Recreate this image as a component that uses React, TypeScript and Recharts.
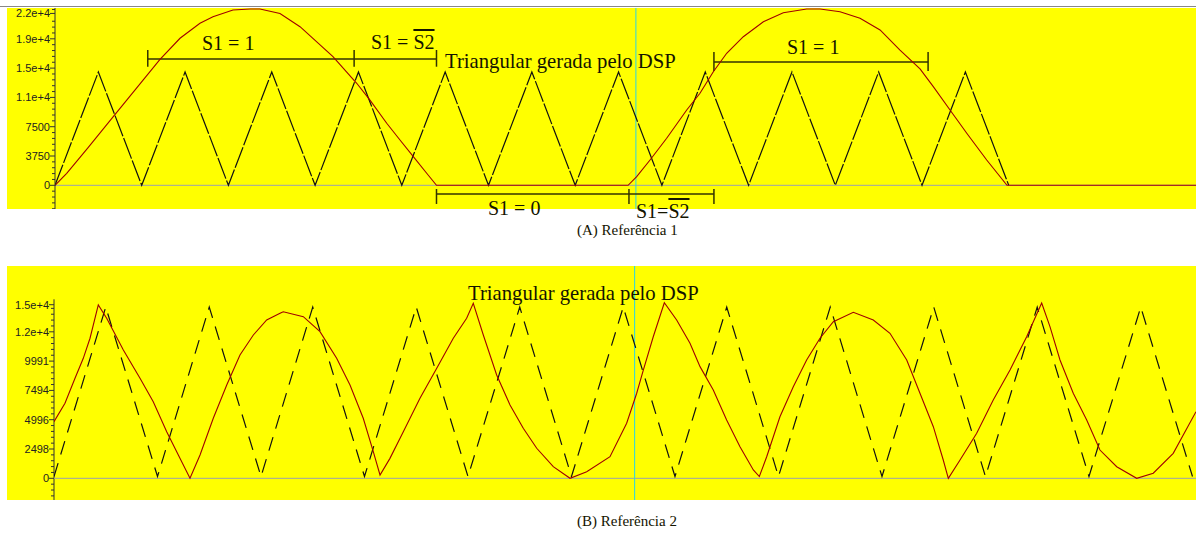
import React from "react";
import { LineChart, Line, XAxis, YAxis, ReferenceLine } from "recharts";

// ---------- Referência 1 ----------
// triangular carrier (DSP), vertices every half period
const triAX = [0, 50, 100, 150, 200, 250, 300, 350, 400, 450, 500, 550, 600, 650, 700, 750, 800, 850, 900, 950, 1000, 1050, 1100];
const triAY = [0, 14500, 0, 14500, 0, 14500, 0, 14500, 0, 14500, 0, 14500, 0, 14500, 0, 14500, 0, 14500, 0, 14500, 0, 14500, 0];

// rectified reference (two half cycles, zero in between)
const refAX = [0, 13.5, 38.4, 67.2, 101.8, 121.1, 144.2, 167.2, 182.2, 205.3, 225, 236.4, 259.5, 282.6, 320.6, 348, 363.3, 382.6, 397.9, 413.3, 428.7, 440,
  661, 670.9, 686.3, 705.5, 728.6, 743.9, 759.3, 774.7, 793.9, 817, 840, 867, 882.4, 905.4, 928.5, 951.6, 974.6, 997.7, 1013, 1032.3, 1051.6, 1074.6, 1098, 1316];
const refAY = [0, 1540, 4860, 8780, 13500, 16130, 18820, 20740, 21580, 22440, 22570, 22560, 22000, 20300, 16460, 13060, 10910, 7940, 5800, 3660, 1540, 0,
  0, 1100, 3240, 6020, 9640, 11780, 14540, 16900, 19020, 20940, 22090, 22570, 22570, 22220, 21380, 19880, 17300, 14900, 12620, 9640, 6660, 3240, 0, 0];

const ticksA = [0, 3750, 7500, 11250, 15000, 18750, 22000];
const tickLabelsA = ["0", "3750", "7500", "1.1e+4", "1.5e+4", "1.9e+4", "2.2e+4"];

// ---------- Referência 2 ----------
const triBX = [0, 50, 100, 150, 200, 250, 300, 350, 400, 450, 500, 550, 600, 650, 700, 750, 800, 850, 900, 950, 1000, 1050, 1100];
const triBY = [150, 14600, 150, 14600, 150, 14600, 150, 14600, 150, 14600, 150, 14600, 150, 14600, 150, 14600, 150, 14600, 150, 14600, 150, 14600, 150];

const refBX = [0, 10.6, 20.3, 28.3, 34.8, 42.8, 50.9, 67, 83.1, 95.9, 108.9, 121.7, 131.4, 141.1, 153.9, 166.9, 179.7, 192.6, 205.5, 218.4, 221.5,
  240.9, 257, 273.1, 286, 298.8, 308.5, 315, 324.6, 337.5, 353.6, 369.8, 385.8, 398.7, 405.1, 414.8, 427.7, 440.6, 453.4, 466.4, 482.4, 498.6,
  514.7, 537.2, 553.3, 563, 569.4, 579, 589.7, 601.6, 614.5, 624.2, 637, 649.9, 662.8, 675.7, 681.5, 688.6, 701.4, 714.3, 727.2, 740.1, 753,
  772.3, 791.6, 807.7, 823.9, 836.7, 849.6, 859.2, 864.1, 875.4, 891.5, 907.5, 923.7, 939.8, 954.3, 962.3, 972, 984.8, 997.8, 1010.6, 1026.8,
  1046.1, 1062.1, 1081.4, 1103.4];
const refBY = [4830, 6400, 8530, 10230, 11940, 14780, 13640, 10940, 8530, 6530, 3970, 1700, 0, 1990, 5120, 7960, 10510, 12220, 13500, 14070, 14200,
  13780, 12500, 10230, 7960, 5120, 2270, 280, 1700, 3970, 6820, 9380, 11940, 13640, 14920, 12220, 8810, 6250, 4260, 2560, 990, 0,
  560, 1840, 4690, 7250, 9230, 12070, 14970, 13500, 11510, 9520, 7530, 4970, 2690, 710, 150, 1840, 5250, 7810, 10090, 11940, 13350,
  14150, 13500, 12360, 10090, 7250, 4400, 1560, 0, 1560, 3840, 6680, 9230, 12070, 14950, 12930, 10090, 7250, 4970, 2410, 990,
  0, 430, 2130, 5680];

const ticksB = [0, 2498, 4996, 7494, 9991, 12489, 14800];
const tickLabelsB = ["0", "2498", "4996", "7494", "9991", "1.2e+4", "1.5e+4"];

const zip = (xs: number[], ys: number[]) => xs.map((x, i) => ({ x, v: ys[i] }));

const YELLOW = "#ffff00";
const INK = "#141400";
const RED = "#a00000";
const CYAN = "#2ad4e6";
const ZERO = "#9aa0b0";
const BRACKET = "#333300";

function minorTicks(step: number, lo: number, hi: number, majors: number[]) {
  const out: number[] = [];
  for (let v = Math.ceil(lo / step) * step; v <= hi; v += step) {
    if (!majors.some((m) => Math.abs(m - v) < step * 0.4)) out.push(v);
  }
  return out;
}

function AxisTick(props: any) {
  const { x, y, payload, majors, labels } = props;
  const i = majors.indexOf(payload.value);
  if (i < 0) {
    return <line x1={x - 3} x2={x} y1={y} y2={y} stroke="#333" />;
  }
  return (
    <g>
      <line x1={x - 5} x2={x} y1={y} y2={y} stroke="#333" />
      <text x={x - 5} y={y} dy="0.35em" textAnchor="end" fontSize={11}
        fontFamily="'Liberation Sans', Arial, sans-serif" fill="#222">
        {labels[i]}
      </text>
    </g>
  );
}

function Note({ left, cy, size = 20, children }: any) {
  return (
    <div
      style={{
        position: "absolute",
        left,
        top: cy - size / 2,
        fontSize: size,
        lineHeight: `${size}px`,
        fontFamily: "'Liberation Serif', 'Times New Roman', serif",
        color: INK,
        whiteSpace: "nowrap",
      }}
    >
      {children}
    </div>
  );
}

const Bar2 = () => <span style={{ textDecoration: "overline" }}>S2</span>;

// bracket spans over panel A: tick positions, level, tick top/bottom
const bracketsA = [
  { xs: [107, 345, 440], y: 16170, top: 17320, bottom: 15180 },
  { xs: [440, 662, 760], y: -1110, top: -470, bottom: -2390 },
  { xs: [760, 1007], y: 15780, top: 17060, bottom: 14630 },
];

export default function App() {
  const domA: [number, number] = [-3034, 22694];
  const domB: [number, number] = [-1850, 18100];
  const allTicksA = [...ticksA, ...minorTicks(750, domA[0], domA[1], ticksA)].sort((a, b) => a - b);
  const allTicksB = [...ticksB, ...minorTicks(499.6, domB[0], 15200, ticksB)].sort((a, b) => a - b);

  return (
    <div style={{ position: "absolute", left: 0, top: 0, width: 1196, height: 534, background: "#fff", overflow: "hidden" }}>
      <div style={{ position: "absolute", left: 0, top: 6, width: 1196, height: 1, background: "#888" }} />

      {/* painel A */}
      <div style={{ position: "absolute", left: 7, top: 8, width: 1189, height: 201, background: YELLOW }}>
        <LineChart width={1189} height={201} margin={{ top: 0, right: 0, bottom: 0, left: 0 }}>
          <XAxis type="number" dataKey="x" domain={[0, 1316]} hide allowDataOverflow />
          <YAxis
            type="number"
            width={48}
            domain={domA}
            allowDataOverflow
            ticks={allTicksA}
            interval={0}
            tickSize={0}
            tickMargin={0}
            tickLine={false}
            axisLine={{ stroke: "#333" }}
            tick={<AxisTick majors={ticksA} labels={tickLabelsA} />}
          />
          <ReferenceLine y={0} stroke={ZERO} />
          <ReferenceLine x={670} stroke={CYAN} />
          {bracketsA.map((b, k) => (
            <React.Fragment key={k}>
              <ReferenceLine segment={[{ x: b.xs[0], y: b.y }, { x: b.xs[b.xs.length - 1], y: b.y }]} stroke={BRACKET} strokeWidth={1.5} />
              {b.xs.map((x) => (
                <ReferenceLine key={x} segment={[{ x, y: b.top }, { x, y: b.bottom }]} stroke={BRACKET} strokeWidth={1.5} />
              ))}
            </React.Fragment>
          ))}
          <Line data={zip(triAX, triAY)} dataKey="v" type="linear" stroke="#111" strokeWidth={1.2}
            strokeDasharray="22 2" dot={false} isAnimationActive={false} />
          <Line data={zip(refAX, refAY)} dataKey="v" type="linear" stroke={RED} strokeWidth={1.1}
            dot={false} isAnimationActive={false} />
        </LineChart>
      </div>

      <Note left={202} cy={43}>S1 = 1</Note>
      <Note left={371} cy={42}>S1 = <Bar2 /></Note>
      <Note left={445} cy={61} size={20.7}>Triangular gerada pelo DSP</Note>
      <Note left={787} cy={47}>S1 = 1</Note>
      <Note left={488} cy={208}>S1 = 0</Note>
      <Note left={636} cy={211}>S1=<Bar2 /></Note>
      <Note left={577} cy={230} size={15}>(A) Referência 1</Note>

      {/* painel B */}
      <div style={{ position: "absolute", left: 7, top: 266, width: 1189, height: 234, background: YELLOW }}>
        <LineChart width={1189} height={234} margin={{ top: 0, right: 0, bottom: 0, left: 0 }}>
          <XAxis type="number" dataKey="x" domain={[0, 1103.4]} hide allowDataOverflow />
          <YAxis
            type="number"
            width={47}
            domain={domB}
            allowDataOverflow
            ticks={allTicksB}
            interval={0}
            tickSize={0}
            tickMargin={0}
            tickLine={false}
            axisLine={false}
            tick={<AxisTick majors={ticksB} labels={tickLabelsB} />}
          />
          <ReferenceLine segment={[{ x: 0, y: domB[0] }, { x: 0, y: 15260 }]} stroke="#333" />
          <ReferenceLine y={0} stroke={ZERO} />
          <ReferenceLine x={561} stroke={CYAN} />
          <Line data={zip(triBX, triBY)} dataKey="v" type="linear" stroke="#111" strokeWidth={1.2}
            strokeDasharray="14 9" dot={false} isAnimationActive={false} />
          <Line data={zip(refBX, refBY)} dataKey="v" type="linear" stroke={RED} strokeWidth={1.1}
            dot={false} isAnimationActive={false} />
        </LineChart>
      </div>

      <Note left={468} cy={293} size={20.7}>Triangular gerada pelo DSP</Note>
      <Note left={577} cy={521} size={15}>(B) Referência 2</Note>
    </div>
  );
}
